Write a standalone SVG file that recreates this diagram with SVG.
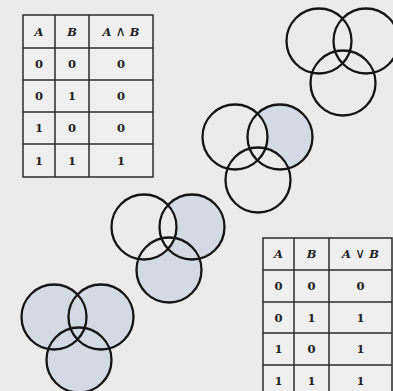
<svg xmlns="http://www.w3.org/2000/svg" width="393" height="391" viewBox="0 0 393 391">
<style>
.bg{fill:#ebebeb}
.cell{fill:#efefef;stroke:#2b2b2b;stroke-width:1.5}
.ln{stroke:#2b2b2b;stroke-width:1.5}
.t{font-family:"DejaVu Serif","Liberation Serif",serif;font-size:11.5px;font-weight:bold;fill:#222;text-anchor:middle}
.v{font-style:italic}
.op{font-family:"DejaVu Sans",sans-serif;font-size:14px;font-weight:normal;font-style:normal}
.ring{fill:none;stroke:#151515;stroke-width:2.3}
.sh{fill:#d4dae4}
.bk{fill:#ebebeb}
</style>
<rect class="bg" x="0" y="0" width="393" height="391"/>

<g id="table-and">
<rect class="cell" x="23" y="15" width="130" height="162"/>
<line class="ln" x1="55" y1="15" x2="55" y2="177"/>
<line class="ln" x1="89" y1="15" x2="89" y2="177"/>
<line class="ln" x1="23" y1="48" x2="153" y2="48"/>
<line class="ln" x1="23" y1="80" x2="153" y2="80"/>
<line class="ln" x1="23" y1="112" x2="153" y2="112"/>
<line class="ln" x1="23" y1="144" x2="153" y2="144"/>
<text class="t v" x="39" y="36">A</text><text class="t v" x="72" y="36">B</text><text class="t v" x="121" y="36">A <tspan class="op">∧</tspan> B</text>
<text class="t" x="39" y="68">0</text><text class="t" x="72" y="68">0</text><text class="t" x="121" y="68">0</text>
<text class="t" x="39" y="100">0</text><text class="t" x="72" y="100">1</text><text class="t" x="121" y="100">0</text>
<text class="t" x="39" y="132">1</text><text class="t" x="72" y="132">0</text><text class="t" x="121" y="132">0</text>
<text class="t" x="39" y="165">1</text><text class="t" x="72" y="165">1</text><text class="t" x="121" y="165">1</text>
</g>

<g id="table-or">
<rect class="cell" x="263" y="238" width="129" height="160"/>
<line class="ln" x1="294" y1="238" x2="294" y2="398"/>
<line class="ln" x1="329" y1="238" x2="329" y2="398"/>
<line class="ln" x1="263" y1="270" x2="392" y2="270"/>
<line class="ln" x1="263" y1="302" x2="392" y2="302"/>
<line class="ln" x1="263" y1="333" x2="392" y2="333"/>
<line class="ln" x1="263" y1="365" x2="392" y2="365"/>
<text class="t v" x="278.5" y="258">A</text><text class="t v" x="311.5" y="258">B</text><text class="t v" x="360.5" y="258">A <tspan class="op">∨</tspan> B</text>
<text class="t" x="278.5" y="290">0</text><text class="t" x="311.5" y="290">0</text><text class="t" x="360.5" y="290">0</text>
<text class="t" x="278.5" y="322">0</text><text class="t" x="311.5" y="322">1</text><text class="t" x="360.5" y="322">1</text>
<text class="t" x="278.5" y="353">1</text><text class="t" x="311.5" y="353">0</text><text class="t" x="360.5" y="353">1</text>
<text class="t" x="278.5" y="385">1</text><text class="t" x="311.5" y="385">1</text><text class="t" x="360.5" y="385">1</text>
</g>

<g id="venn-1">
<circle class="ring" cx="319" cy="41" r="32.5"/>
<circle class="ring" cx="366" cy="41" r="32.5"/>
<circle class="ring" cx="343" cy="83" r="32.5"/>
</g>

<g id="venn-2">
<circle class="sh" cx="280" cy="137" r="32.5"/>
<circle class="bk" cx="235" cy="137" r="32.5"/>
<circle class="bk" cx="258" cy="180" r="32.5"/>
<circle class="ring" cx="235" cy="137" r="32.5"/>
<circle class="ring" cx="280" cy="137" r="32.5"/>
<circle class="ring" cx="258" cy="180" r="32.5"/>
</g>

<g id="venn-3">
<circle class="sh" cx="192" cy="227" r="32.5"/>
<circle class="sh" cx="169" cy="270" r="32.5"/>
<circle class="bk" cx="144" cy="227" r="32.5"/>
<circle class="ring" cx="144" cy="227" r="32.5"/>
<circle class="ring" cx="192" cy="227" r="32.5"/>
<circle class="ring" cx="169" cy="270" r="32.5"/>
</g>

<g id="venn-4">
<circle class="sh" cx="54" cy="317" r="32.5"/>
<circle class="sh" cx="101" cy="317" r="32.5"/>
<circle class="sh" cx="79" cy="360" r="32.5"/>
<circle class="ring" cx="54" cy="317" r="32.5"/>
<circle class="ring" cx="101" cy="317" r="32.5"/>
<circle class="ring" cx="79" cy="360" r="32.5"/>
</g>

<g id="connectors"></g>
</svg>
